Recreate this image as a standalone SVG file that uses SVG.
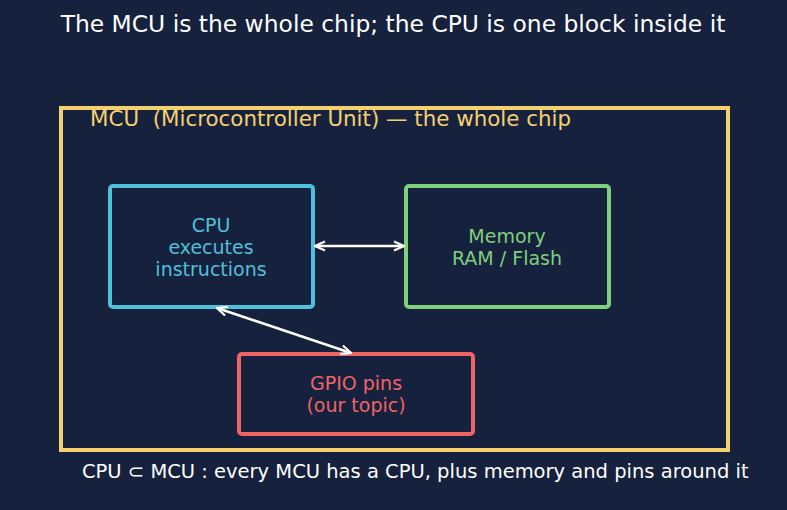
<svg xmlns="http://www.w3.org/2000/svg" width="787" height="510" viewBox="0 0 787 510">
<defs>
<marker id="ah" viewBox="0 0 12 12" refX="11" refY="6" markerWidth="12" markerHeight="12" markerUnits="userSpaceOnUse" orient="auto-start-reverse">
<path d="M1,1.5 L11,6 L1,10.5" fill="none" stroke="#ffffff" stroke-width="2.2"/>
</marker>
<style>
text{font-family:"DejaVu Sans",sans-serif;white-space:pre;}
.box{fill:#16213e;stroke-width:4;}
.lbl{font-size:19px;text-anchor:middle;}
.conn{stroke:#ffffff;stroke-width:2.5;fill:none;}
</style>
</defs>
<rect width="787" height="510" fill="#16213e"/>
<text x="393" y="32" font-size="23.4" fill="#ffffff" text-anchor="middle">The MCU is the whole chip; the CPU is one block inside it</text>
<g id="mcu">
<rect x="61" y="108" width="667" height="342" fill="none" stroke="#f5d06f" stroke-width="4"/>
<text x="90" y="126" font-size="21.4" fill="#f5d06f" xml:space="preserve">MCU  (Microcontroller Unit) — the whole chip</text>
</g>
<g id="cpu">
<rect class="box" x="110" y="186" width="203" height="121" rx="3" stroke="#4fc0dc"/>
<text class="lbl" fill="#4fc0dc"><tspan x="211" y="232">CPU</tspan><tspan x="211" y="254">executes</tspan><tspan x="211" y="276">instructions</tspan></text>
</g>
<g id="memory">
<rect class="box" x="406" y="186" width="203" height="121" rx="3" stroke="#7ed07a"/>
<text class="lbl" fill="#7ed07a"><tspan x="507" y="243">Memory</tspan><tspan x="507" y="265">RAM / Flash</tspan></text>
</g>
<g id="gpio">
<rect class="box" x="239" y="354" width="234" height="80" rx="3" stroke="#f06464"/>
<text class="lbl" fill="#f06464"><tspan x="356" y="390">GPIO pins</tspan><tspan x="356" y="412">(our topic)</tspan></text>
</g>
<g id="connectors">
<line class="conn" x1="315" y1="246" x2="404" y2="246" marker-start="url(#ah)" marker-end="url(#ah)"/>
<line class="conn" x1="217" y1="308" x2="351" y2="353" marker-start="url(#ah)" marker-end="url(#ah)"/>
</g>
<text x="82" y="478" font-size="19.5" fill="#ffffff">CPU ⊂ MCU : every MCU has a CPU, plus memory and pins around it</text>
</svg>
